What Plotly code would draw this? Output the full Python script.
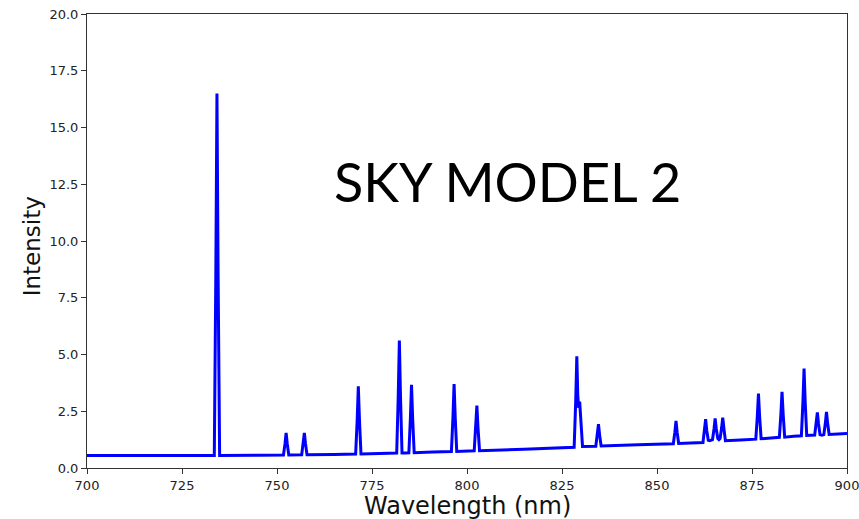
import plotly.graph_objects as go

# Spectrum trace (wavelength in nm, intensity)
wavelength = [
    700.0, 720.0, 733.5, 733.9, 734.2, 734.5, 734.9, 745.0,
    751.7, 752.1, 752.4, 752.7, 753.1,
    756.5, 756.9, 757.2, 757.5, 757.9, 765.0,
    770.7, 771.1, 771.4, 771.7, 772.1, 777.0,
    781.5, 781.9, 782.2, 782.5, 782.9, 783.8,
    784.7, 785.1, 785.4, 785.7, 786.1, 791.0,
    795.9, 796.3, 796.6, 796.9, 797.3,
    801.9, 802.3, 802.6, 802.9, 803.3, 815.0,
    828.2, 828.6, 828.9, 829.15, 829.4, 829.65, 829.95, 830.4,
    833.9, 834.3, 834.6, 834.9, 835.3, 845.0,
    854.3, 854.7, 855.0, 855.3, 855.7,
    862.1, 862.5, 862.8, 863.1, 863.5, 863.9,
    864.6, 865.0, 865.3, 865.6, 866.0, 866.3,
    866.6, 867.0, 867.3, 867.6, 868.0, 872.0,
    876.0, 876.4, 876.7, 877.0, 877.4, 880.0,
    882.2, 882.6, 882.9, 883.2, 883.6, 886.0,
    888.0, 888.4, 888.7, 889.0, 889.4,
    891.5, 891.9, 892.2, 892.5, 892.9, 893.4,
    893.9, 894.3, 894.6, 894.9, 895.3, 900.0,
]
intensity = [
    0.55, 0.55, 0.55, 8.50, 16.5, 8.50, 0.55, 0.56,
    0.57, 1.06, 1.55, 1.06, 0.57,
    0.58, 1.07, 1.55, 1.07, 0.58, 0.60,
    0.62, 2.11, 3.60, 2.11, 0.62, 0.64,
    0.66, 3.14, 5.62, 3.14, 0.66, 0.66,
    0.67, 2.17, 3.66, 2.17, 0.67, 0.70,
    0.73, 2.22, 3.70, 2.22, 0.73,
    0.76, 1.76, 2.75, 1.76, 0.76, 0.83,
    0.91, 2.90, 4.92, 3.20, 2.65, 2.92, 1.90, 0.95,
    0.96, 1.45, 1.93, 1.45, 0.97, 1.02,
    1.07, 1.58, 2.08, 1.58, 1.08,
    1.12, 1.64, 2.15, 1.64, 1.22, 1.20,
    1.25, 1.72, 2.18, 1.72, 1.30, 1.25,
    1.30, 1.76, 2.22, 1.76, 1.20, 1.23,
    1.27, 2.28, 3.28, 2.28, 1.29, 1.32,
    1.35, 2.36, 3.36, 2.36, 1.36, 1.40,
    1.42, 2.90, 4.38, 2.90, 1.43,
    1.45, 1.95, 2.45, 1.95, 1.47, 1.45,
    1.47, 1.97, 2.47, 1.97, 1.48, 1.52,
]

x_ticks = [700, 725, 750, 775, 800, 825, 850, 875, 900]
y_ticks = [0.0, 2.5, 5.0, 7.5, 10.0, 12.5, 15.0, 17.5, 20.0]

fig = go.Figure()
fig.add_trace(go.Scatter(
    x=wavelength, y=intensity, mode="lines",
    line=dict(color="#0000ff", width=3),
    showlegend=False, hoverinfo="skip",
))

axis_font = dict(family="DejaVu Sans", size=13, color="#222222")
title_font = dict(family="DejaVu Sans", size=24, color="#111111")
fig.update_layout(
    width=859, height=519,
    margin=dict(l=87, r=12, t=14, b=51),
    paper_bgcolor="white", plot_bgcolor="white",
    xaxis=dict(
        range=[700, 900], tickvals=x_ticks, ticktext=[str(v) for v in x_ticks],
        showgrid=False, zeroline=False, showline=True, mirror=True, automargin=False,
        ticklabeloverflow="allow",
        linecolor="#333333", linewidth=1, ticks="outside", ticklen=5,
        tickcolor="#333333", tickfont=axis_font,
    ),
    yaxis=dict(
        range=[0, 20], tickvals=y_ticks, ticktext=[f"{v:.1f}" for v in y_ticks],
        showgrid=False, zeroline=False, showline=True, mirror=True, automargin=False,
        ticklabeloverflow="allow",
        linecolor="#333333", linewidth=1, ticks="outside", ticklen=5,
        tickcolor="#333333", tickfont=axis_font,
    ),
    annotations=[
        dict(text="SKY MODEL 2", x=0.553, y=0.632, xref="paper", yref="paper",
             showarrow=False, xanchor="center", yanchor="middle",
             font=dict(family="Lato", size=54, color="black")),
        dict(text="Wavelength (nm)", x=0.5, y=-0.083, xref="paper", yref="paper",
             showarrow=False, xanchor="center", yanchor="middle", font=title_font),
        dict(text="Intensity", x=-0.072, y=0.489, xref="paper", yref="paper",
             showarrow=False, xanchor="center", yanchor="middle", textangle=-90,
             font=dict(family="DejaVu Sans", size=23, color="#111111")),
    ],
)

fig.write_html("out.html")
